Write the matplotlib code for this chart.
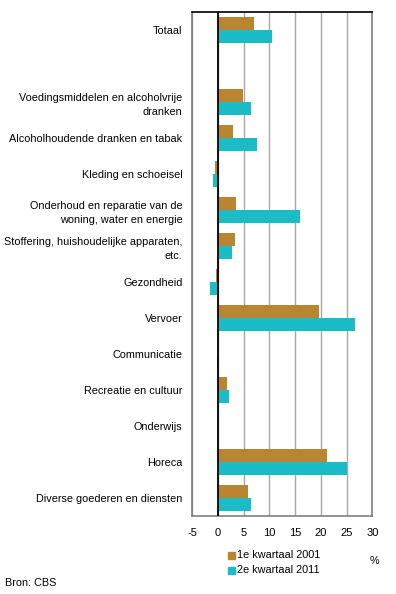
import matplotlib
matplotlib.use('Agg')
from matplotlib import pyplot as plt
from matplotlib.patches import Rectangle
import numpy as np

plt.rcParams['font.family'] = ['Liberation Sans', 'DejaVu Sans']

categories = ['Totaal', '',
              'Voedingsmiddelen en alcoholvrije\ndranken',
              'Alcoholhoudende dranken en tabak',
              'Kleding en schoeisel',
              'Onderhoud en reparatie van de\nwoning, water en energie',
              'Stoffering, huishoudelijke apparaten,\netc.',
              'Gezondheid',
              'Vervoer',
              'Communicatie',
              'Recreatie en cultuur',
              'Onderwijs',
              'Horeca',
              'Diverse goederen en diensten']
q1_2001 = [6.9, np.nan, 4.8, 2.9, -0.65, 3.4, 3.25, -0.45, 19.6, 0.0, 1.7, 0.0, 21.1, 5.9]
q2_2011 = [10.4, np.nan, 6.5, 7.5, -1.0, 15.9, 2.7, -1.6, 26.6, -0.25, 2.1, 0.0, 25.0, 6.5]
series_names = ['1e kwartaal 2001', '2e kwartaal 2011']
colors = ['#b98530', '#1bbcc6']
xticks = [-5, 0, 5, 10, 15, 20, 25, 30]

fs = 7.8

fig = plt.figure(figsize=(3.96, 5.94), dpi=100)
ax = fig.add_axes([192.3/396, 1 - 516/594, 180/396, 504/594])

y = np.arange(len(categories))
h = 0.36
ax.barh(y - h/2, q1_2001, height=h, color=colors[0], zorder=3)
ax.barh(y + h/2, q2_2011, height=h, color=colors[1], zorder=3)

ax.set_xlim(-5, 30)
ax.set_ylim(len(categories) - 0.5, -0.5)
ax.set_xticks(xticks)
ax.set_xticklabels([str(t) for t in xticks], fontsize=8)
ax.set_yticks(y)
ax.set_yticklabels(categories, fontsize=fs, ha='right', linespacing=1.55)
ax.tick_params(axis='both', length=0)
ax.tick_params(axis='x', pad=9)
ax.tick_params(axis='y', pad=7)
ax.grid(axis='x', color='#a8a8a8', lw=1, zorder=1)
ax.axvline(0, color='black', lw=1.3, zorder=4)
for s in ['left', 'right', 'bottom']:
    ax.spines[s].set_color('#808080')
    ax.spines[s].set_linewidth(1.2)
ax.spines['top'].set_color('black')
ax.spines['top'].set_linewidth(1.2)

# legend
for i, name in enumerate(series_names):
    yy = 1 - (555 + 15*i)/594
    fig.patches.append(Rectangle((228/396, yy - 3.5/594), 7/396, 7/594,
                                 transform=fig.transFigure, color=colors[i]))
    fig.text(237/396, yy, name, fontsize=fs, va='center', ha='left')
fig.text(374/396, 1 - 561/594, '%', fontsize=fs, va='center', ha='center')
fig.text(5/396, 1 - 583/594, 'Bron: CBS', fontsize=fs, va='center', ha='left')

fig.savefig('out.png', dpi=100)
